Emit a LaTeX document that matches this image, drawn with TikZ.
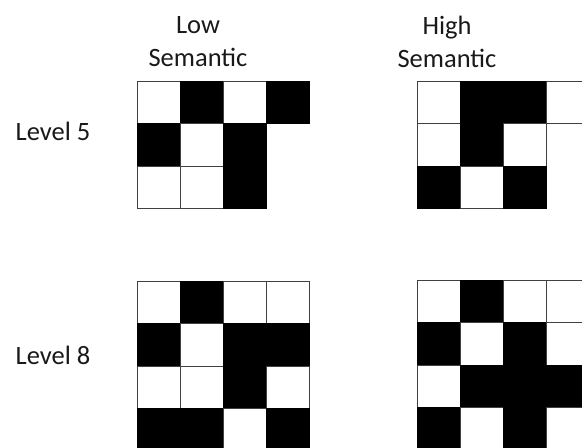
\documentclass[tikz,border=0pt]{standalone}
\usepackage{fontspec}
\setmainfont{Carlito}
\usetikzlibrary{positioning}
\tikzset{
  cw/.style={draw=black!75,fill=white,line width=0.8bp},
  cb/.style={draw=black,fill=black,line width=0.8bp},
  label/.style={font=\fontsize{26.5bp}{33bp}\selectfont,inner sep=0pt,align=center,text=black!90}
}
\begin{document}
\begin{tikzpicture}[x=1bp,y=-1bp]
  \useasboundingbox (0,0) rectangle (582,448);
  \clip (0,0) rectangle (582,448);

  % column heads
  \node[label] (lowhead) at (198,42) {Low\\Semantic};
  \node[label] (highhead) at (447,42) {High\\Semantic};
  % row heads
  \node[label] (lvlfive) at (53,131) {Level 5};
  \node[label] (lvleight) at (53,355) {Level 8};

  % level 5, low semantic
  \begin{scope}[shift={(137,81)}]
    \foreach \c/\r/\f in {0/0/cw,1/0/cb,2/0/cw,3/0/cb,
                          0/1/cb,1/1/cw,2/1/cb,
                          0/2/cw,1/2/cw,2/2/cb} {
      \draw[\f] (\c*43,\r*42.5) rectangle ++(43,42.5);
    }
  \end{scope}

  % level 5, high semantic
  \begin{scope}[shift={(417,81)}]
    \foreach \c/\r/\f in {0/0/cw,1/0/cb,2/0/cb,3/0/cw,
                          0/1/cw,1/1/cb,2/1/cw,
                          0/2/cb,1/2/cw,2/2/cb} {
      \draw[\f] (\c*43,\r*42.5) rectangle ++(43,42.5);
    }
  \end{scope}

  % level 8, low semantic
  \begin{scope}[shift={(137,281)}]
    \foreach \c/\r/\f in {0/0/cw,1/0/cb,2/0/cw,3/0/cw,
                          0/1/cb,1/1/cw,2/1/cb,3/1/cb,
                          0/2/cw,1/2/cw,2/2/cb,3/2/cw,
                          0/3/cb,1/3/cb,2/3/cw,3/3/cb} {
      \draw[\f] (\c*43,\r*42.5) rectangle ++(43,42.5);
    }
  \end{scope}

  % level 8, high semantic
  \begin{scope}[shift={(417,280)}]
    \foreach \c/\r/\f in {0/0/cw,1/0/cb,2/0/cw,3/0/cw,
                          0/1/cb,1/1/cw,2/1/cb,3/1/cw,
                          0/2/cw,1/2/cb,2/2/cb,3/2/cb,
                          0/3/cb,1/3/cw,2/3/cb,3/3/cw} {
      \draw[\f] (\c*43,\r*42.5) rectangle ++(43,42.5);
    }
  \end{scope}
\end{tikzpicture}
\end{document}
